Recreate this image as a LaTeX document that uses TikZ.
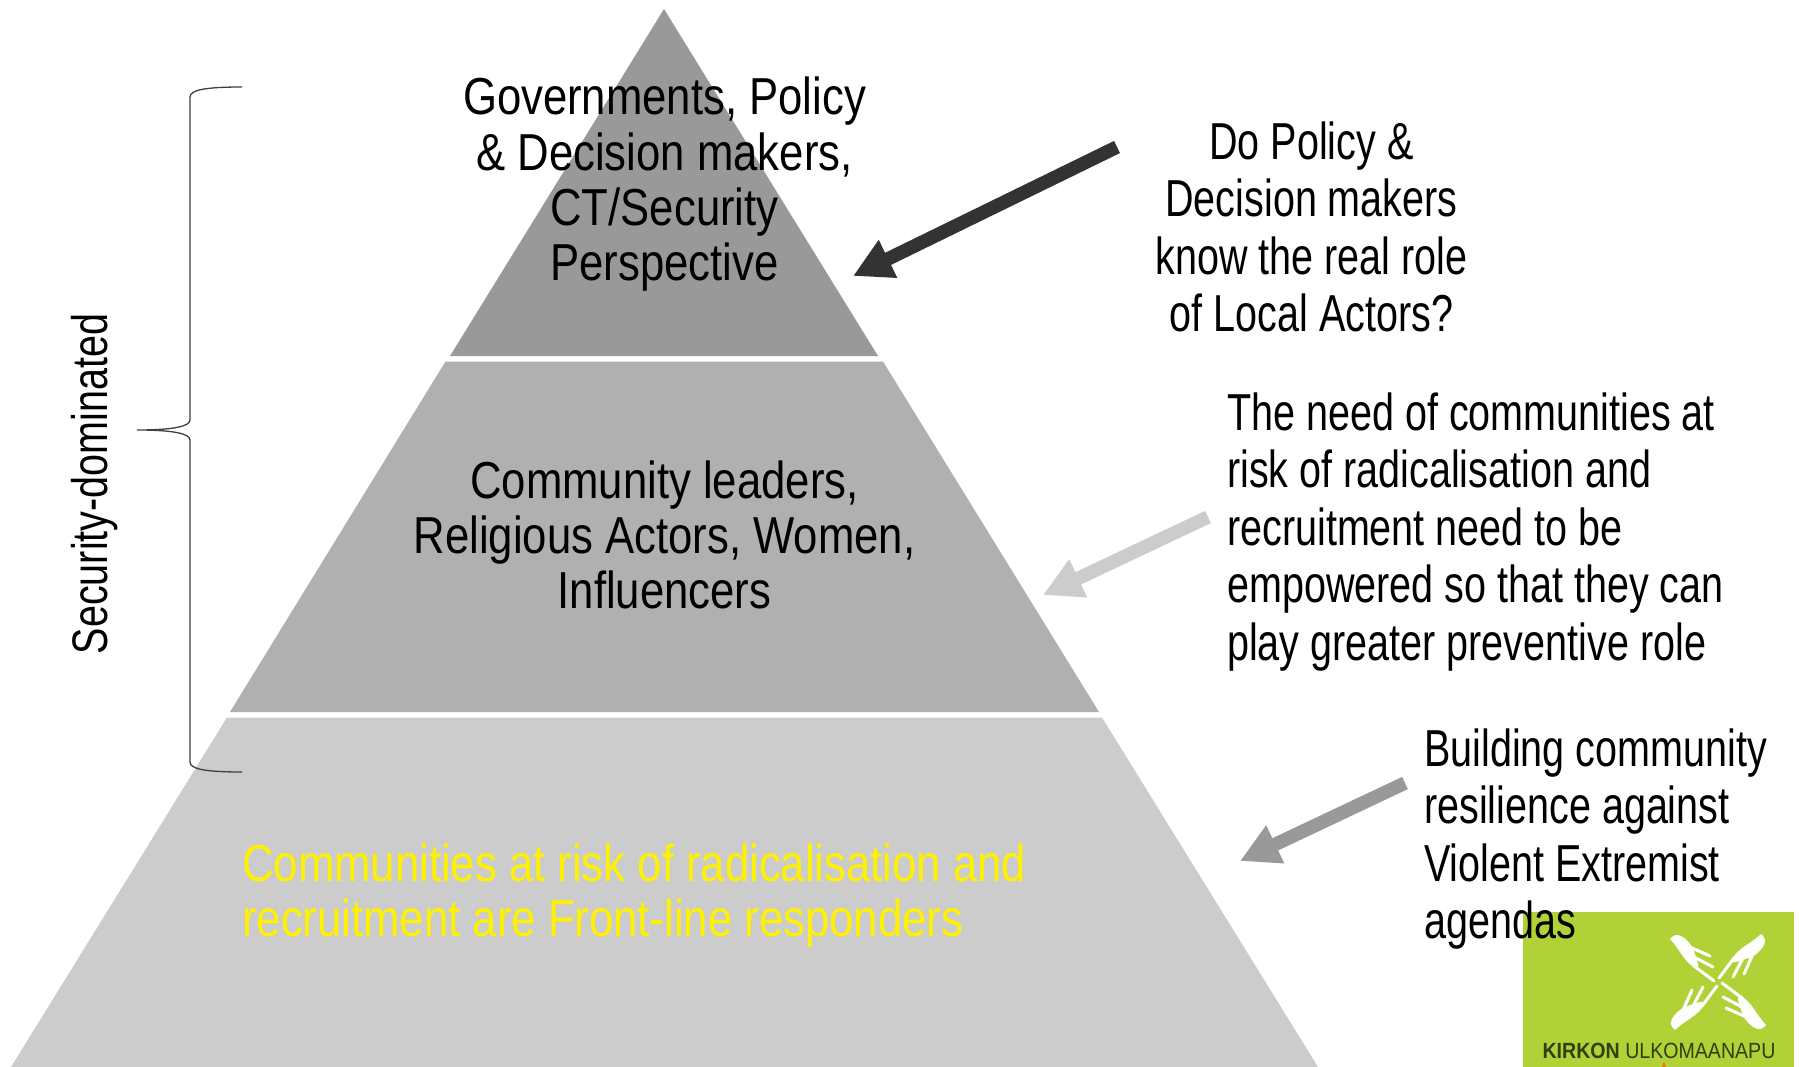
\documentclass[tikz,border=0pt]{standalone}
\usepackage{fontspec}
\usetikzlibrary{arrows.meta}
\setmainfont{Liberation Sans}[FakeStretch=0.84]
\newfontfamily\narrowfont{Liberation Sans}[FakeStretch=0.76]
\newfontfamily\sidefont{Liberation Sans}[FakeStretch=0.79]
\newfontfamily\plainfont{Liberation Sans}[FakeStretch=0.89]
\definecolor{logogreen}{RGB}{177,210,54}
\definecolor{logotext}{RGB}{50,62,16}
\begin{document}
\begin{tikzpicture}[x=1pt,y=-1pt,
  pyrlabel/.style={inner sep=0pt,align=center,font=\fontsize{52}{55.3}\selectfont},
  rlabel/.style={inner sep=0pt,align=left,font=\narrowfont\fontsize{52}{57.5}\selectfont},
  fatarrow/.style={line width=13.5pt,draw=#1,-{Triangle[length=39pt,width=39.4pt,fill=#1]}},
  hand/.pic={
    \fill[white,line join=round] (-48,-43) .. controls (-45,-47) and (-41,-48) .. (-37,-46)
      .. controls (-33,-44) and (-29,-40) .. (-25,-34) -- (-20,-18) -- (-20,-12)
      .. controls (-26,-15) and (-31,-20) .. (-36,-27)
      .. controls (-40,-33) and (-44,-39) .. cycle;
    \draw[white,line width=3pt,line cap=round] (-26,-34) -- (-8,-26);
    \draw[white,line width=3pt,line cap=round] (-24,-25) -- (-5,-15);
    \draw[white,line width=3pt,line cap=round] (-24,-16) -- (-4,-1);
  }]
\useasboundingbox (0,0) rectangle (1799,1067);
\fill[white] (0,0) rectangle (1799,1067);
% pyramid
\fill[black!40] (664,9) -- (878,356) -- (450,356) -- cycle;
\fill[black!31] (445.5,361.5) -- (883,361.5) -- (1099,712) -- (230,712) -- cycle;
\fill[black!20] (227,717.5) -- (1102,717.5) -- (1318,1067) -- (11,1067) -- cycle;
% brace
\draw[black!75,line width=1.3pt] (242,87) .. controls (205,87) and (190,90) .. (190,97)
  -- (190,420) .. controls (190,426) and (175,430) .. (137,430)
  .. controls (175,430) and (190,434) .. (190,440)
  -- (190,762) .. controls (190,769) and (205,772) .. (242,772);
% pyramid text
\node[pyrlabel] (top) at (664.5,184.5) {Governments, Policy\\\& Decision makers,\\CT/Security\\Perspective};
\node[pyrlabel] (mid) at (664.5,535) {Community leaders,\\Religious Actors, Women,\\Influencers};
\node[pyrlabel,text=yellow,align=left,anchor=west] (base) at (242,895.5) {Communities at risk of radicalisation and\\recruitment are Front-line responders};
\node[rotate=90,inner sep=0pt,font=\sidefont\fontsize{50}{55}\selectfont] (side) at (94.5,484) {Security-dominated};
% logo
\fill[logogreen] (1523,912) rectangle (1794,1067);
\begin{scope}[shift={(1718,982)}]
  \pic {hand};
  \pic[rotate=-90] {hand};
  \pic[rotate=180] {hand};
  \pic[rotate=90] {hand};
\end{scope}
\node[inner sep=0pt,text=logotext,font=\plainfont\fontsize{22}{22}\selectfont] (logo) at (1659,1051) {\textbf{KIRKON} ULKOMAANAPU};
\fill[orange!85!red] (1662,1067) -- (1664,1062) -- (1666,1067) -- cycle;
% right text
\node[rlabel,align=center] (q1) at (1311.5,227) {Do Policy \&\\Decision makers\\know the real role\\of Local Actors?};
\node[rlabel,anchor=west] (q2) at (1227,532) {The need of communities at\\risk of radicalisation and\\recruitment need to be\\empowered so that they can\\play greater preventive role};
\node[rlabel,anchor=west] (q3) at (1424,839) {Building community\\resilience against\\Violent Extremist\\agendas};
% arrows
\coordinate (a1s) at (1117,147);
\coordinate (a1e) at (853,276);
\coordinate (a2s) at (1208,517);
\coordinate (a2e) at (1043,595);
\coordinate (a3s) at (1405,783);
\coordinate (a3e) at (1240,861);
\draw[fatarrow={black!80}] (a1s) -- (a1e);
\draw[fatarrow={black!20}] (a2s) -- (a2e);
\draw[fatarrow={black!40}] (a3s) -- (a3e);
\end{tikzpicture}
\end{document}
